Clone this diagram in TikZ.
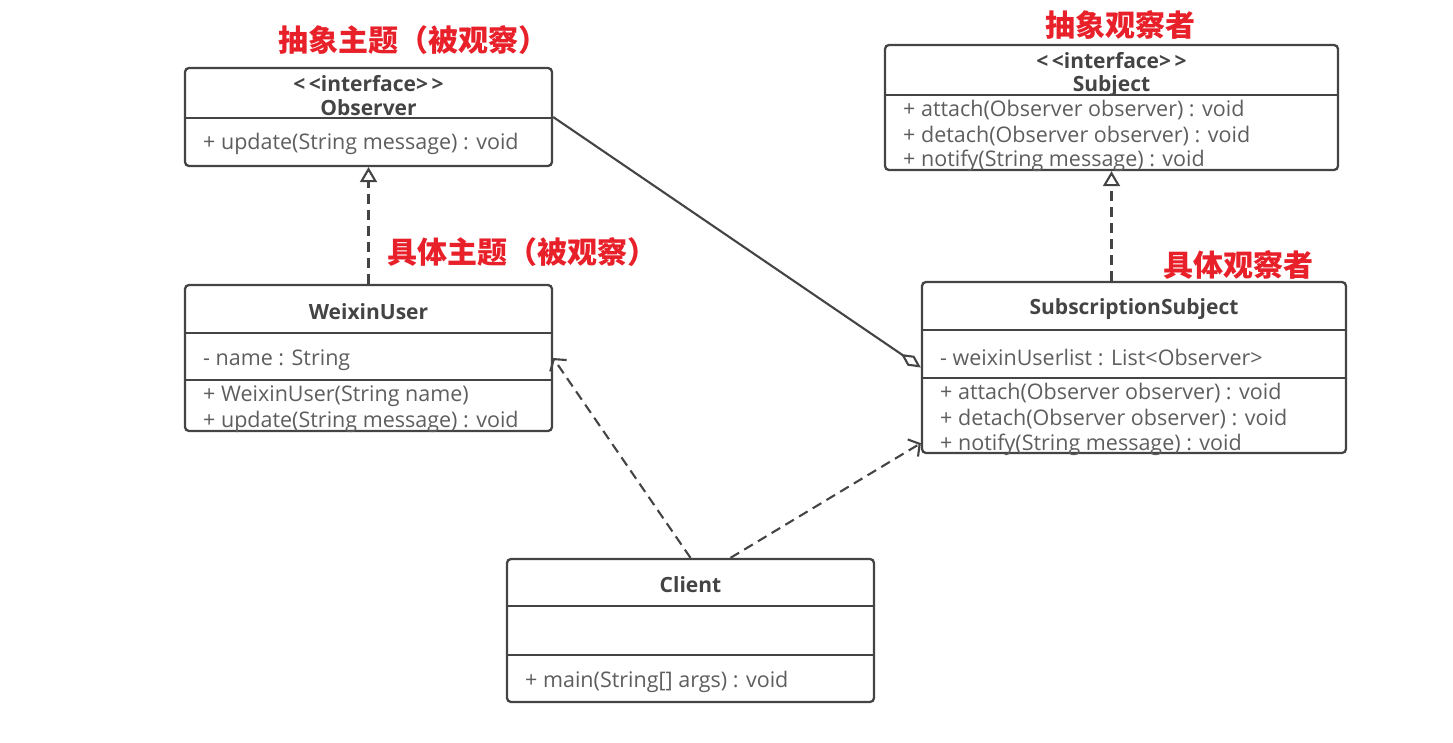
\documentclass[tikz,border=0pt]{standalone}
\usepackage{fontspec}
\setmainfont{Open Sans}
\newfontfamily\cjk{Noto Sans CJK SC}
\usepackage{tikz}
\usetikzlibrary{arrows.meta,positioning}
\definecolor{umlgray}{HTML}{444444}
\definecolor{membergray}{HTML}{5E5E5E}
\definecolor{notered}{HTML}{E8202A}
\newcommand{\stereo}{{<}\,{<}interface{>}\,{>}}

\begin{document}
\begin{tikzpicture}[
    x=1pt, y=-1pt,
    cls/.style={draw=umlgray, line width=2.3pt, rounded corners=4pt, fill=white, inner sep=0pt},
    sep/.style={draw=umlgray, line width=2.1pt},
    title/.style={font=\fontsize{21}{22}\selectfont\bfseries, text=umlgray, inner sep=0pt},
    member/.style={font=\fontsize{21.5}{24}\selectfont, text=membergray, anchor=west, inner sep=0pt},
    note/.style={font=\cjk\fontsize{30}{31}\selectfont\bfseries, text=notered, inner sep=0pt},
    realize/.style={draw=umlgray, line width=2.1pt, dash pattern=on 10pt off 6pt, -{Triangle[open, length=15pt, width=17pt]}},
    depend/.style={draw=umlgray, line width=2.1pt, dash pattern=on 10pt off 6pt, -{Straight Barb[length=8pt, width=20pt]}},
    aggr/.style={draw=umlgray, line width=2.1pt, -{Diamond[open, length=24pt, width=12pt]}}
]
    \useasboundingbox (0,0) rectangle (1453,742);

    % class boxes
    \node[cls, minimum width=367pt, minimum height=98pt] (obs) at (368.5,117) {};
    \node[cls, minimum width=453pt, minimum height=125pt] (subj) at (1111.5,107.5) {};
    \node[cls, minimum width=367pt, minimum height=146pt] (wx) at (368.5,358) {};
    \node[cls, minimum width=424pt, minimum height=171pt] (sub) at (1134,367.5) {};
    \node[cls, minimum width=367pt, minimum height=143pt] (cli) at (690.5,630.5) {};

    % compartments
    \draw[sep] (obs.west |- 0,118) -- (obs.east |- 0,118);
    \draw[sep] (subj.west |- 0,95) -- (subj.east |- 0,95);
    \draw[sep] (wx.west |- 0,333) -- (wx.east |- 0,333);
    \draw[sep] (wx.west |- 0,380) -- (wx.east |- 0,380);
    \draw[sep] (sub.west |- 0,330) -- (sub.east |- 0,330);
    \draw[sep] (sub.west |- 0,378) -- (sub.east |- 0,378);
    \draw[sep] (cli.west |- 0,606) -- (cli.east |- 0,606);
    \draw[sep] (cli.west |- 0,655) -- (cli.east |- 0,655);

    % Observer
    \node[title] (obsst) at (368.5,84) {\stereo};
    \node[title] (obsname) at (368.5,108) {Observer};
    \node[member] (obsm1) at (203,144) {+ update(String message) : void};

    % Subject
    \node[title] (subjst) at (1111.5,61) {\stereo};
    \node[title] (subjname) at (1111.5,86) {Subject};
    \node[member] (subjm1) at (903,110) {+ attach(Observer observer) : void};
    \node[member] (subjm2) at (903,136) {+ detach(Observer observer) : void};
    \node[member] (subjm3) at (903,161) {+ notify(String message) : void};

    % WeixinUser
    \node[title] (wxname) at (368.5,312) {WeixinUser};
    \node[member] (wxa1) at (203,360) {- name : String};
    \node[member] (wxm1) at (203,396) {+ WeixinUser(String name)};
    \node[member] (wxm2) at (203,422) {+ update(String message) : void};

    % SubscriptionSubject
    \node[title] (subname) at (1134,309) {SubscriptionSubject};
    \node[member] (suba1) at (940,357) {- weixinUserlist : List<Observer>};
    \node[member] (subm1) at (940,393) {+ attach(Observer observer) : void};
    \node[member] (subm2) at (940,419) {+ detach(Observer observer) : void};
    \node[member] (subm3) at (940,445) {+ notify(String message) : void};

    % Client
    \node[title] (cliname) at (690.5,585) {Client};
    \node[member] (clim1) at (525,682) {+ main(String[] args) : void};

    % notes
    \node[note] (n1) at (413,40) {抽象主题（被观察）};
    \node[note] (n2) at (1120,25) {抽象观察者};
    \node[note] (n3) at (522,252) {具体主题（被观察）};
    \node[note] (n4) at (1238,265) {具体观察者};

    % relations
    \draw[realize] (wx.north) -- (obs.south);
    \draw[realize] (subj.south |- sub.north) -- (subj.south);
    \draw[aggr] (obs.east) -- (sub.west);
    \draw[depend] (cli.north) -- (wx.east);
    \draw[depend] ([xshift=40pt]cli.north) -- ([yshift=11pt]sub.south west);
\end{tikzpicture}
\end{document}
